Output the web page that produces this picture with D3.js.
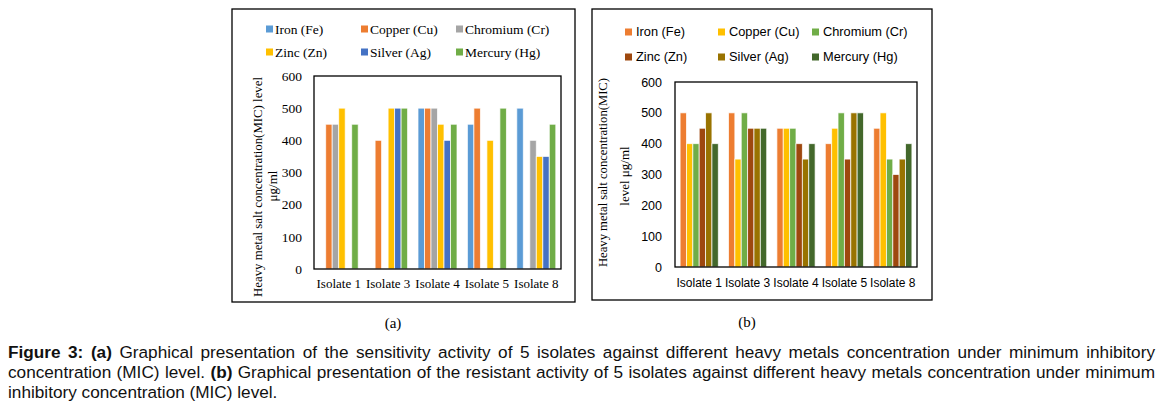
<!DOCTYPE html>
<html><head><meta charset="utf-8">
<script src="https://cdn.jsdelivr.net/npm/d3@7"></script>
<style>
body{margin:0;background:#fff;}
svg{display:block;}
</style></head>
<body>
<svg id="c" width="1166" height="409"></svg>
<script>
const categories = ["Isolate 1","Isolate 3","Isolate 4","Isolate 5","Isolate 8"];
const seriesNames = ["Iron (Fe)","Copper (Cu)","Chromium (Cr)","Zinc (Zn)","Silver (Ag)","Mercury (Hg)"];
const yTicks = [0,100,200,300,400,500,600];

// panel (a): sensitivity
const aIron     = [0,0,500,450,500];
const aCopper   = [450,400,500,500,0];
const aChromium = [450,0,500,0,400];
const aZinc     = [500,500,450,400,350];
const aSilver   = [0,500,400,0,350];
const aMercury  = [450,500,450,500,450];
const aColors = ["#5B9BD5","#ED7D31","#A5A5A5","#FFC000","#4472C4","#70AD47"];

// panel (b): resistance
const bIron     = [500,500,450,400,450];
const bCopper   = [400,350,450,450,500];
const bChromium = [400,500,450,500,350];
const bZinc     = [450,450,400,350,300];
const bSilver   = [500,450,350,500,350];
const bMercury  = [400,450,400,500,400];
const bColors = ["#ED7D31","#FFC000","#70AD47","#9E480E","#997300","#43682B"];

const svg = d3.select("#c");

function panel(cfg){
  const g = svg.append("g");
  g.append("rect").attr("x",cfg.frame[0]).attr("y",cfg.frame[1])
    .attr("width",cfg.frame[2]-cfg.frame[0]).attr("height",cfg.frame[3]-cfg.frame[1])
    .attr("fill","none").attr("stroke","#000").attr("stroke-width",1.3);
  const [L,T,R,B] = cfg.plot;
  const y = d3.scaleLinear().domain([0,600]).range([B,T]);
  const x0 = d3.scaleBand().domain(categories).range([L,R]);
  const x1 = d3.scaleBand().domain(seriesNames).range([0,x0.bandwidth()]).paddingInner(0).paddingOuter(0.8);
  const color = d3.scaleOrdinal().domain(seriesNames).range(cfg.colors);
  const data = categories.map((c,i)=>({cat:c, vals: seriesNames.map((s,j)=>({s, v: cfg.values[j][i]}))}));
  const grp = g.selectAll("g.grp").data(data).join("g").attr("transform",d=>`translate(${x0(d.cat)},0)`);
  grp.selectAll("rect").data(d=>d.vals.filter(e=>e.v>0)).join("rect")
    .attr("x",d=>x1(d.s)).attr("width",x1.bandwidth())
    .attr("y",d=>y(d.v)).attr("height",d=>y(0)-y(d.v))
    .attr("fill",d=>color(d.s)).attr("stroke","#fff").attr("stroke-width",0.9).attr("stroke-opacity",0.8);
  g.append("rect").attr("x",L).attr("y",T).attr("width",R-L).attr("height",B-T)
    .attr("fill","none").attr("stroke","#000").attr("stroke-width",1.3);
  const ya = g.append("g").attr("transform",`translate(${L},0)`)
    .call(d3.axisLeft(y).tickValues(yTicks).tickSize(0).tickPadding(cfg.yPad));
  ya.select(".domain").remove();
  ya.selectAll("text").attr("font-family",cfg.tickFont).attr("font-size",cfg.tickSize).attr("fill","#000");
  const xa = g.append("g").attr("transform",`translate(0,${B})`)
    .call(d3.axisBottom(x0).tickSize(0).tickPadding(cfg.xPad));
  xa.select(".domain").remove();
  xa.selectAll("text").attr("font-family",cfg.tickFont).attr("font-size",cfg.xSize).attr("fill","#000");
  cfg.ytitle.forEach(t=>{
    const el = g.append("text").attr("transform",`translate(${t.x},${t.cy}) rotate(-90)`)
      .attr("text-anchor","middle").attr("font-family",t.font).attr("font-size",t.size).attr("fill","#000")
      .text(t.text);
    if(t.len) el.attr("textLength",t.len).attr("lengthAdjust","spacingAndGlyphs");
  });
  seriesNames.forEach((s,i)=>{
    const col = i%3, row = Math.floor(i/3);
    const lx = cfg.legX[col], ly = cfg.legY[row];
    g.append("rect").attr("x",lx).attr("y",ly-3.5).attr("width",7).attr("height",7).attr("fill",color(s));
    g.append("text").attr("x",lx+cfg.legGap).attr("y",ly).attr("dy","0.35em")
      .attr("font-family",cfg.legFont).attr("font-size",cfg.legSize).attr("fill","#000").text(s);
  });
}

panel({
  frame:[232,9,575,302], plot:[314,76,561,269],
  values:[aIron,aCopper,aChromium,aZinc,aSilver,aMercury], colors:aColors,
  tickFont:"Liberation Serif", tickSize:13.5, xSize:13, yPad:12, xPad:10,
  ytitle:[{x:262,cy:187,text:"Heavy metal salt concentration(MIC) level",font:"Liberation Serif",size:13,len:220},
          {x:277,cy:186,text:"μg/ml",font:"Liberation Serif",size:13}],
  legX:[266,361,456], legY:[29,52], legGap:9, legFont:"Liberation Serif", legSize:13.5
});
panel({
  frame:[592,9,932,300], plot:[675,82,917,267],
  values:[bIron,bCopper,bChromium,bZinc,bSilver,bMercury], colors:bColors,
  tickFont:"Liberation Sans", tickSize:12.5, xSize:12, yPad:13, xPad:11,
  ytitle:[{x:607,cy:172.5,text:"Heavy metal salt concentration(MIC)",font:"Liberation Serif",size:13,len:189},
          {x:629,cy:176,text:"level μg/ml",font:"Liberation Serif",size:13}],
  legX:[625,718,812], legY:[32,57], legGap:11, legFont:"Liberation Sans", legSize:12.8
});

svg.append("text").attr("x",393).attr("y",328).attr("text-anchor","middle")
  .attr("font-family","Liberation Serif").attr("font-size",15).text("(a)");
svg.append("text").attr("x",747).attr("y",327).attr("text-anchor","middle")
  .attr("font-family","Liberation Serif").attr("font-size",15).text("(b)");

const capLines = [
  {y:358, justify:true, parts:[["Figure 3:",true],[" (a)",true],[" Graphical presentation of the sensitivity activity of 5 isolates against different heavy metals concentration under minimum inhibitory",false]]},
  {y:378, justify:true, parts:[["concentration (MIC) level. ",false],["(b)",true],[" Graphical presentation of the resistant activity of 5 isolates against different heavy metals concentration under minimum",false]]},
  {y:398, justify:false, parts:[["inhibitory concentration (MIC) level.",false]]}
];
capLines.forEach(l=>{
  const t = svg.append("text").attr("x",8).attr("y",l.y).attr("font-family","Liberation Sans")
    .attr("font-size",17.2).attr("fill","#111");
  l.parts.forEach(p=>t.append("tspan").attr("font-weight",p[1]?"bold":"normal").text(p[0]));
  if(l.justify){
    const w = t.node().getComputedTextLength();
    const full = l.parts.map(p=>p[0]).join("");
    const spaces = (full.match(/ /g)||[]).length;
    t.attr("word-spacing",(1147 - w)/spaces);
  }
});
</script>
</body></html>
